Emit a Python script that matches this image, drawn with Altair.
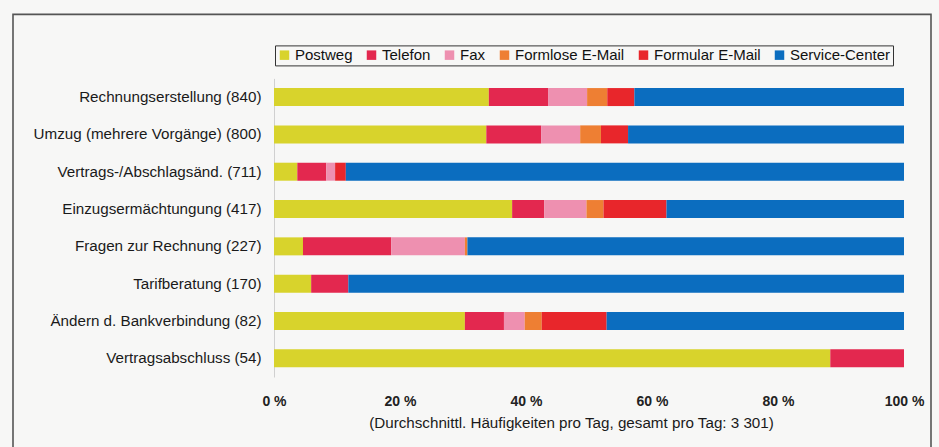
import altair as alt
import pandas as pd

categories = [
    "Rechnungserstellung (840)",
    "Umzug (mehrere Vorgänge) (800)",
    "Vertrags-/Abschlagsänd. (711)",
    "Einzugsermächtungung (417)",
    "Fragen zur Rechnung (227)",
    "Tarifberatung (170)",
    "Ändern d. Bankverbindung (82)",
    "Vertragsabschluss (54)",
]
series = ["Postweg", "Telefon", "Fax", "Formlose E-Mail", "Formular E-Mail", "Service-Center"]
colors = ["#d8d32c", "#e3284f", "#ee90b0", "#ee7f33", "#e8262b", "#0b6dbf"]

postweg = [34.1, 33.7, 3.7, 37.8, 4.6, 5.9, 30.3, 88.3]
telefon = [9.4, 8.7, 4.6, 5.1, 14.0, 5.9, 6.2, 11.7]
fax = [6.2, 6.2, 1.4, 6.7, 11.7, 0.0, 3.3, 0.0]
formlose = [3.2, 3.3, 0.0, 2.7, 0.4, 0.0, 2.7, 0.0]
formular = [4.3, 4.3, 1.7, 10.0, 0.0, 0.0, 10.3, 0.0]
service = [42.8, 43.8, 88.6, 37.7, 69.3, 88.2, 47.2, 0.0]

tick_values = [0, 20, 40, 60, 80, 100]
x_title = "(Durchschnittl. Häufigkeiten pro Tag, gesamt pro Tag: 3 301)"

rows = []
for s_i, (name, vals) in enumerate(zip(series, [postweg, telefon, fax, formlose, formular, service])):
    for c, v in zip(categories, vals):
        rows.append({"Kategorie": c, "Kanal": name, "Anteil": v, "order": s_i})
df = pd.DataFrame(rows)

FONT = "Liberation Sans"

bars = alt.Chart(df).mark_bar(size=18).encode(
    y=alt.Y("Kategorie:N", sort=categories, title=None,
            scale=alt.Scale(paddingInner=0.5, paddingOuter=0.25),
            axis=alt.Axis(labelFontSize=15.2, labelColor="#1a1a1a", labelPadding=13,
                          ticks=False, domainColor="#d0d0d0", domainWidth=1,
                          labelFont=FONT, labelLimit=300)),
    x=alt.X("Anteil:Q", stack="zero", scale=alt.Scale(domain=[0, 100], nice=False),
            title=x_title,
            axis=alt.Axis(values=tick_values, labelExpr="datum.value + ' %'", grid=False,
                          ticks=False, domain=False, labelPadding=17, labelFontSize=14,
                          labelFontWeight="bold", labelColor="#222", labelFont=FONT,
                          labelFlush=False,
                          titleFont=FONT, titleFontSize=15.2, titleFontWeight="normal",
                          titleColor="#1a1a1a", titleX=297, titleY=45, titleBaseline="middle")),
    color=alt.Color("Kanal:N", sort=series,
                    scale=alt.Scale(domain=series, range=colors),
                    legend=alt.Legend(title=None, orient="none", direction="horizontal",
                                      legendX=1, legendY=-33, symbolType="square",
                                      symbolSize=90, symbolStrokeWidth=0, labelFontSize=15,
                                      labelFont=FONT, labelColor="#111", strokeColor="#333",
                                      padding=2, columnPadding=11, labelOffset=3,
                                      symbolOpacity=1)),
    order=alt.Order("order:Q"),
)

frame = alt.Chart(alt.Data(values=[{}])).mark_rect(
    fill=None, stroke="#555", strokeWidth=1.6, clip=False
).encode(
    x=alt.value(-261), x2=alt.value(657), y=alt.value(-64), y2=alt.value(400)
)

chart = alt.layer(frame, bars).properties(
    width=630, height=298.6,
    autosize=alt.AutoSizeParams(type="none"),
    padding={"left": 274, "top": 78.4, "right": 35, "bottom": 70},
    background="#f7f7f6",
).configure_view(stroke=None)

chart.save("out.html", embed_options={"renderer": "svg", "actions": False})
